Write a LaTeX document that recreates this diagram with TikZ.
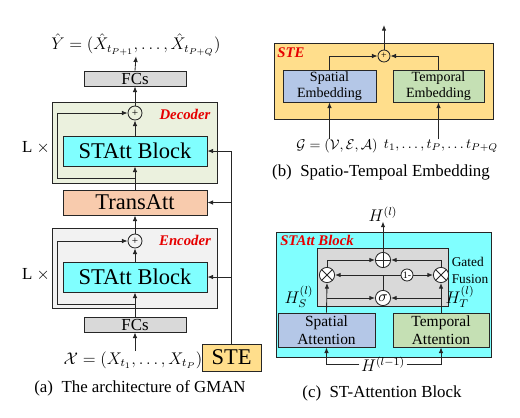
\documentclass[tikz,border=0pt]{standalone}
\usepackage{amsmath,amssymb}
\usepackage{fontspec}
\setmainfont{Liberation Serif}
\usetikzlibrary{arrows.meta, positioning, calc}
\definecolor{gcyan}{HTML}{80FFFF}
\definecolor{ggray}{HTML}{D9D9D9}
\definecolor{gpeach}{HTML}{F8CBAD}
\definecolor{gyell}{HTML}{FFDE8C}
\definecolor{gblue}{HTML}{B4C7E7}
\definecolor{ggreen}{HTML}{C5E0B4}
\definecolor{gdec}{HTML}{EBF1DE}
\definecolor{genc}{HTML}{F2F2F2}
\definecolor{gred}{HTML}{E60000}

\begin{document}
\begin{tikzpicture}[
  x=0.025cm, y=-0.025cm,
  box/.style={rectangle, draw=black!85, line width=0.6pt, inner sep=0pt, align=center},
  attblk/.style={box, fill=gcyan, minimum width=3.6cm, minimum height=0.75cm,
                 font=\fontsize{16}{18}\selectfont},
  fcbox/.style={box, fill=ggray, minimum width=2.55cm, minimum height=0.375cm,
                font=\fontsize{12}{13}\selectfont},
  grp/.style={box, minimum width=4.125cm},
  embbox/.style={box, minimum height=0.8cm, font=\fontsize{10}{11.5}\selectfont},
  addc/.style={circle, draw=black!85, line width=0.6pt, inner sep=0pt,
               minimum size=0.35cm, font=\fontsize{8}{8}\selectfont},
  opc/.style={circle, draw=black!85, line width=0.6pt, inner sep=0pt, minimum size=0.38cm},
  plusop/.style={opc, path picture={\draw[line width=0.6pt]
      (path picture bounding box.north) -- (path picture bounding box.south)
      (path picture bounding box.west) -- (path picture bounding box.east);}},
  mulop/.style={opc, path picture={\draw[line width=0.6pt]
      (path picture bounding box.north west) -- (path picture bounding box.south east)
      (path picture bounding box.south west) -- (path picture bounding box.north east);}},
  tag/.style={font=\bfseries\itshape\fontsize{10.5}{12}\selectfont, text=gred, inner sep=0pt},
  lbl/.style={inner sep=0pt, font=\fontsize{12}{14}\selectfont},
  caption/.style={inner sep=0pt, font=\fontsize{12}{14}\selectfont},
  arr/.style={-{Latex[length=4pt,width=3.2pt]}, line width=0.6pt, draw=black!85},
  ln/.style={line width=0.6pt, draw=black!85},
]
  \useasboundingbox (0,0) rectangle (520,417);

  % (a) GMAN
  \node[grp, fill=gdec, minimum height=2.025cm] (decGrp) at (134.5,142.5) {};
  \node[grp, fill=genc, minimum height=2cm] (encGrp) at (134.5,268) {};
  \node[lbl, font=\fontsize{11.5}{14}\selectfont] (yOut) at (136,45)
    {$\hat{Y}=(\hat{X}_{t_{P+1}},\dots,\hat{X}_{t_{P+Q}})$};
  \node[fcbox] (fcTop) at (135,78.5) {FCs};
  \node[addc] (decPlus) at (135,113) {+};
  \node[attblk] (decBlk) at (135,151) {STAtt Block};
  \node[tag] (decTag) at (185,114) {Decoder};
  \node[lbl] (decL) at (36,148) {L $\times$};
  \node[box, fill=gpeach, minimum width=3.6cm, minimum height=0.625cm,
        font=\fontsize{16}{18}\selectfont] (trans) at (135,202.5) {TransAtt};
  \node[addc] (encPlus) at (135,241) {+};
  \node[attblk] (encBlk) at (135,277) {STAtt Block};
  \node[tag] (encTag) at (185,240) {Encoder};
  \node[lbl] (encL) at (36,275) {L $\times$};
  \node[fcbox] (fcBot) at (135,324.5) {FCs};
  \node[lbl] (xIn) at (133,360) {$\mathcal{X}=(X_{t_1},\dots,X_{t_P})$};
  \node[box, fill=gyell, minimum width=1.475cm, minimum height=0.675cm,
        font=\fontsize{16}{18}\selectfont] (ste) at (231.5,357.5) {STE};
  \node[caption] (capA) at (140,388) {(a)\ \ The architecture of GMAN};

  \draw[arr] (xIn.north -| fcBot.south) -- (fcBot.south);
  \draw[arr] (fcBot.north) -- (encBlk.south);
  \draw[arr] (encBlk.north) -- (encPlus.south);
  \draw[arr] (encPlus.north) -- (trans.south);
  \draw[arr] (trans.north) -- (decBlk.south);
  \draw[arr] (decBlk.north) -- (decPlus.south);
  \draw[arr] (decPlus.north) -- (fcTop.south);
  \draw[arr] (fcTop.north) -- (yOut.south);
  \coordinate (encTap) at (135,304);
  \coordinate (encLoop) at (57,304);
  \draw[arr] (encTap) -- (encLoop) |- (encPlus.west);
  \coordinate (decTap) at (135,178);
  \coordinate (decLoop) at (57,178);
  \draw[arr] (decTap) -- (decLoop) |- (decPlus.west);
  \draw[ln] (ste.north) -- (ste.north |- decBlk.east);
  \draw[arr] (ste.north |- decBlk.east) -- (decBlk.east);
  \draw[arr] (ste.north |- trans.east) -- (trans.east);
  \draw[arr] (ste.north |- encBlk.east) -- (encBlk.east);

  % (b) STE
  \node[box, fill=gyell, minimum width=5.475cm, minimum height=1.9cm] (steGrp) at (383.5,81) {};
  \node[tag] (steTag) at (291,53) {STE};
  \node[addc, minimum size=0.3cm, font=\fontsize{7}{7}\selectfont] (stePlus) at (384,56) {+};
  \node[embbox, fill=gblue, minimum width=2.325cm] (spEmb) at (329.5,86) {Spatial\\Embedding};
  \node[embbox, fill=ggreen, minimum width=2.275cm] (tpEmb) at (438.5,86) {Temporal\\Embedding};
  \node[lbl, font=\fontsize{10}{12}\selectfont] (gIn) at (337,146)
    {$\mathcal{G}=(\mathcal{V},\mathcal{E},\mathcal{A})$};
  \node[lbl, font=\fontsize{10}{12}\selectfont] (tIn) at (441,146)
    {$t_1,\ldots,t_P,\ldots t_{P+Q}$};
  \node[caption] (capB) at (381,172) {(b)\ \ Spatio-Tempoal Embedding};
  \coordinate (steOut) at (384,25);

  \draw[arr] (spEmb.south |- gIn.north) -- (spEmb.south);
  \draw[arr] (tpEmb.south |- tIn.north) -- (tpEmb.south);
  \draw[arr] (spEmb.north) |- (stePlus.west);
  \draw[arr] (tpEmb.north) |- (stePlus.east);
  \draw[arr] (stePlus.north) -- (steOut);

  % (c) ST-Attention block
  \node[box, fill=gcyan, minimum width=5.375cm, minimum height=3.125cm] (attGrp) at (383.5,294.5) {};
  \node[tag] (attTag) at (317,240) {STAtt Block};
  \node[box, fill=ggray, minimum width=3.275cm, minimum height=1.45cm] (gate) at (382.5,277) {};
  \node[inner sep=0pt, align=left, font=\fontsize{9.5}{12}\selectfont] (gateLbl) at (470,270) {Gated\\Fusion};
  \node[plusop, fill=white] (sumC) at (383,260) {};
  \node[mulop, fill=white] (mulL) at (327,275) {};
  \node[mulop, fill=white] (mulR) at (441,275) {};
  \node[opc, fill=white, minimum size=0.3cm, font=\fontsize{7}{7}\selectfont] (oneM) at (407,275) {1-};
  \node[opc, fill=white, font=\fontsize{11}{11}\selectfont] (sig) at (383,298) {$\sigma$};
  \node[embbox, fill=gblue, minimum width=2.425cm, minimum height=0.85cm,
        font=\fontsize{11}{13}\selectfont] (spAtt) at (326.5,330) {Spatial\\Attention};
  \node[embbox, fill=ggreen, minimum width=2.4cm, minimum height=0.85cm,
        font=\fontsize{11}{13}\selectfont] (tpAtt) at (441,330) {Temporal\\Attention};
  \node[lbl] (hOut) at (383,214) {$H^{(l)}$};
  \node[lbl] (hS) at (299,297) {$H_S^{(l)}$};
  \node[lbl] (hT) at (460,297) {$H_T^{(l)}$};
  \node[lbl, inner sep=1pt] (hIn) at (383,364) {$H^{(l-1)}$};
  \node[caption] (capC) at (382,393) {(c)\ \ ST-Attention Block};

  \draw[arr] (hIn.west) -| (spAtt.south);
  \draw[arr] (hIn.east) -| (tpAtt.south);
  \draw[arr] (spAtt.north) -- (mulL.south);
  \draw[arr] (tpAtt.north) -- (mulR.south);
  \coordinate (sBr) at (spAtt.north |- sig.west);
  \coordinate (tBr) at (tpAtt.north |- sig.east);
  \draw[arr] (sBr) -- (sig.west);
  \draw[arr] (tBr) -- (sig.east);
  \coordinate (jn) at (sig.north |- mulL.east);
  \draw[ln] (sig.north) -- (jn);
  \draw[arr] (jn) -- (mulL.east);
  \draw[ln] (jn) -- (oneM.west);
  \draw[arr] (oneM.east) -- (mulR.west);
  \draw[arr] (mulL.north) |- (sumC.west);
  \draw[arr] (mulR.north) |- (sumC.east);
  \draw[arr] (sumC.north) -- (hOut.south);
\end{tikzpicture}
\end{document}
